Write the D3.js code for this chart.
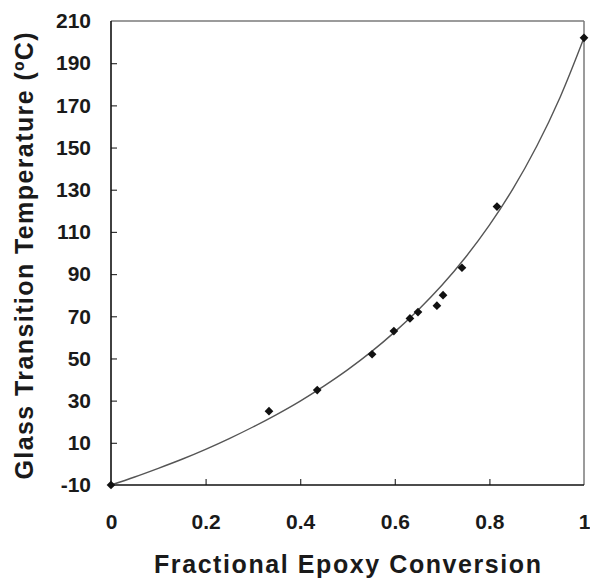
<!DOCTYPE html>
<html>
<head>
<meta charset="utf-8">
<script src="https://cdn.jsdelivr.net/npm/d3@7"></script>
<style>
  html, body { margin: 0; padding: 0; background: #fff; }
  svg { display: block; }
  text { font-family: "Liberation Sans", Arial, sans-serif; }
</style>
</head>
<body>
<svg id="chart" width="590" height="578"></svg>
<script>
// ---- data ----
const pointX = [0, 0.334, 0.436, 0.552, 0.598, 0.632, 0.649, 0.689, 0.702, 0.742, 0.816, 1.0];
const pointY = [-10, 25, 35, 52, 63, 69, 72, 75, 80, 93, 122, 202];

const curveX = [0, 0.05, 0.1, 0.15, 0.2, 0.25, 0.3, 0.35, 0.4, 0.45, 0.5, 0.55, 0.6, 0.65, 0.7, 0.75, 0.8, 0.85, 0.9, 0.95, 1.0];
const curveY = [-10, -6.2, -2.1, 2.2, 6.9, 12.0, 17.5, 23.4, 29.8, 36.9, 44.6, 53.1, 62.6, 73.1, 84.8, 98.1, 113.2, 130.5, 150.6, 174.1, 202];

const xTicks = [0, 0.2, 0.4, 0.6, 0.8, 1];
const xTickLabels = ["0", "0.2", "0.4", "0.6", "0.8", "1"];
const yTicks = [-10, 10, 30, 50, 70, 90, 110, 130, 150, 170, 190, 210];
const yTickLabels = ["-10", "10", "30", "50", "70", "90", "110", "130", "150", "170", "190", "210"];

const xTitle = "Fractional Epoxy Conversion";
const yTitle = "Glass Transition Temperature (ºC)";

// ---- layout ----
const svg = d3.select("#chart");
const L = 111, R = 584, T = 21, B = 485;

const x = d3.scaleLinear().domain([0, 1]).range([L, R]);
const y = d3.scaleLinear().domain([-10, 210]).range([B, T]);

// frame: top & right grey, left & bottom black
svg.append("line").attr("x1", L).attr("x2", R).attr("y1", T).attr("y2", T)
  .attr("stroke", "#7a7a7a").attr("stroke-width", 1.5);
svg.append("line").attr("x1", R).attr("x2", R).attr("y1", T).attr("y2", B)
  .attr("stroke", "#7a7a7a").attr("stroke-width", 1.5);

// axes
const yAxis = d3.axisLeft(y).tickValues(yTicks).tickSizeInner(-6).tickSizeOuter(0).tickPadding(20)
  .tickFormat((d, i) => yTickLabels[i]);
const gy = svg.append("g").attr("transform", `translate(${L},0)`).call(yAxis);
gy.select(".domain").remove();
gy.selectAll(".tick line").attr("stroke", "#333").attr("stroke-width", 1.2)
  .filter(d => d === 210 || d === -10).remove();
gy.selectAll(".tick text").attr("font-size", 21).attr("font-weight", "bold").attr("fill", "#1a1a1a")
  .attr("font-family", "'Liberation Sans', Arial, sans-serif");

const xAxis = d3.axisBottom(x).tickValues(xTicks).tickSizeInner(-6).tickSizeOuter(0).tickPadding(29)
  .tickFormat((d, i) => xTickLabels[i]);
const gx = svg.append("g").attr("transform", `translate(0,${B})`).call(xAxis);
gx.select(".domain").remove();
gx.selectAll(".tick line").attr("stroke", "#333").attr("stroke-width", 1.2)
  .filter(d => d === 0 || d === 1).remove();
gx.selectAll(".tick text").attr("font-size", 21).attr("font-weight", "bold").attr("fill", "#1a1a1a")
  .attr("font-family", "'Liberation Sans', Arial, sans-serif");

svg.append("line").attr("x1", L).attr("x2", L).attr("y1", T).attr("y2", B)
  .attr("stroke", "#111").attr("stroke-width", 1.6);
svg.append("line").attr("x1", L).attr("x2", R).attr("y1", B).attr("y2", B)
  .attr("stroke", "#111").attr("stroke-width", 1.6);

// fitted curve
const curveData = curveX.map((v, i) => [v, curveY[i]]);
svg.append("path")
  .datum(curveData)
  .attr("fill", "none")
  .attr("stroke", "#555")
  .attr("stroke-width", 1.4)
  .attr("d", d3.line().x(d => x(d[0])).y(d => y(d[1])).curve(d3.curveCatmullRom));

// data points (diamonds)
const pts = pointX.map((v, i) => [v, pointY[i]]);
const sym = d3.symbol().type(d3.symbolSquare).size(38);
svg.append("g").selectAll("path").data(pts).join("path")
  .attr("d", sym)
  .attr("fill", "#111")
  .attr("transform", d => `translate(${x(d[0])},${y(d[1])}) rotate(45)`);

// titles
svg.append("text")
  .attr("x", (L + R) / 2).attr("y", 573)
  .attr("text-anchor", "middle")
  .attr("font-size", 25).attr("font-weight", "bold").attr("fill", "#1a1a1a")
  .attr("textLength", 387).attr("lengthAdjust", "spacing")
  .text(xTitle);

svg.append("text")
  .attr("transform", `translate(33,${(T + B) / 2 + 3}) rotate(-90)`)
  .attr("text-anchor", "middle")
  .attr("font-size", 25).attr("font-weight", "bold").attr("fill", "#1a1a1a")
  .attr("textLength", 447).attr("lengthAdjust", "spacing")
  .text(yTitle);
</script>
</body>
</html>
